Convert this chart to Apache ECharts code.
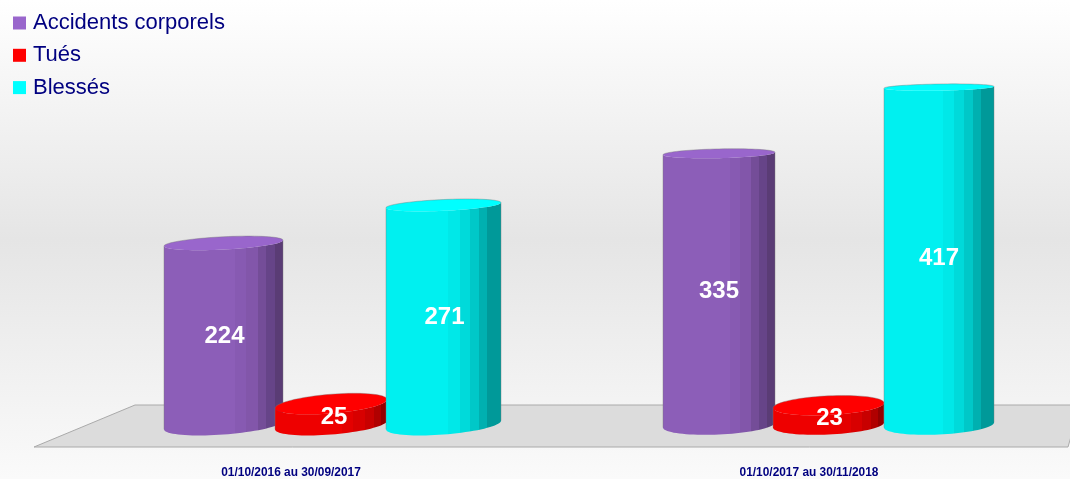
<!DOCTYPE html>
<html>
<head>
<meta charset="utf-8">
<style>html,body{margin:0;padding:0;background:#fff}#chart{width:1070px;height:479px}</style>
<script src="https://cdn.jsdelivr.net/npm/echarts@6/dist/echarts.min.js"></script>
</head>
<body>
<div id="chart"></div>
<script>
// values
var categories = ["01/10/2016 au 30/09/2017", "01/10/2017 au 30/11/2018"];
var seriesNames = ["Accidents corporels", "Tués", "Blessés"];
var accidents = [224, 335];
var tues = [25, 23];
var blesses = [271, 417];

// cylinder layout, per series then per category (the fake perspective shifts them)
var barOffset = [[-67.5, -90], [40, 19.5], [152.5, 130]];
var barWidth = [[119, 112], [112, 111], [115, 110]];
var labelShift = [[1, 0], [3, 1], [1, 0]];
var groupTilt = [5.5, 3.2];

var capColors = ["#9966cc", "#ff0000", "#00ffff"];
var bands = [
    [[0, "#8c5eb8"], [0.6, "#875ab2"], [0.69, "#8256aa"], [0.79, "#744d98"], [0.86, "#664488"], [0.93, "#5a3c75"]],
    [[0, "#ee0000"], [0.6, "#e40000"], [0.7, "#d80000"], [0.8, "#c80000"], [0.88, "#b00000"], [0.95, "#930000"]],
    [[0, "#00f0f0"], [0.54, "#00e8e8"], [0.64, "#00dada"], [0.73, "#00c8c8"], [0.81, "#00b0b0"], [0.88, "#009999"]]
];

function bandGradient(s, x0, x1) {
    var stops = [];
    bands[s].forEach(function (b, i) {
        if (i > 0) stops.push({ offset: b[0], color: bands[s][i - 1][1] });
        stops.push({ offset: b[0], color: b[1] });
    });
    stops.push({ offset: 1, color: bands[s][bands[s].length - 1][1] });
    return new echarts.graphic.LinearGradient(x0, 0, x1, 0, stops, true);
}

// point on a slanted ellipse
function ell(cx, cy, rx, ry, tilt, t) {
    return [cx + rx * Math.cos(t), cy + ry * Math.sin(t) - Math.cos(t) * tilt / 2];
}

function cylinder(s) {
    return function (params, api) {
        var g = api.value(0);
        var v = api.value(1);
        var center = api.coord([g, v]);
        var zero = api.coord([g, 0]);
        var cx = center[0] + barOffset[s][g];
        var rx = barWidth[s][g] / 2;
        var topY = center[1];
        var baseY = zero[1] + 1;
        var ry = 10 - v * 0.016;
        var topTilt = groupTilt[g] * ry / 6;
        var baseTilt = groupTilt[g] * 9.5 / 6;
        var body = [];
        var cap = [];
        var rim = [];
        var i;
        // base arc, left to right along the front
        for (i = 0; i <= 40; i++) {
            body.push(ell(cx, baseY, rx, 9.5, baseTilt, Math.PI - Math.PI * i / 40));
        }
        // top arc back, right to left along the front of the cap
        for (i = 0; i <= 40; i++) {
            body.push(ell(cx, topY, rx, ry, topTilt, Math.PI * i / 40));
        }
        for (i = 0; i < 80; i++) {
            cap.push(ell(cx, topY, rx, ry, topTilt, Math.PI * 2 * i / 80));
        }
        // grey line along the back of the cap, then the two sides
        for (i = 0; i <= 40; i++) {
            rim.push(ell(cx, topY, rx, ry, topTilt, -Math.PI * i / 40));
        }
        var lineStyle = { fill: null, stroke: "rgba(120,120,120,0.4)", lineWidth: 1 };
        return {
            type: "group",
            children: [
                {
                    type: "polygon",
                    shape: { points: body },
                    style: { fill: bandGradient(s, cx - rx, cx + rx) }
                },
                {
                    type: "polygon",
                    shape: { points: cap },
                    style: { fill: capColors[s] }
                },
                { type: "polyline", shape: { points: rim }, style: lineStyle },
                { type: "polyline", shape: { points: [body[0], body[81]] }, style: lineStyle },
                { type: "polyline", shape: { points: [body[40], body[41]] }, style: lineStyle },
                {
                    type: "text",
                    style: {
                        x: cx + labelShift[s][g],
                        y: (topY + baseY) / 2 + (v < 50 ? 3 : 2),
                        text: String(v),
                        fill: "#ffffff",
                        font: "bold 24px 'Liberation Sans'",
                        align: "center",
                        verticalAlign: "middle"
                    }
                }
            ]
        };
    };
}

var seriesData = [accidents, tues, blesses];

var myChart = echarts.init(document.getElementById("chart"), null, { width: 1070, height: 479 });

var option = {
    animation: false,
    backgroundColor: new echarts.graphic.LinearGradient(0, 0, 0, 1, [
        { offset: 0, color: "#ffffff" },
        { offset: 0.5, color: "#e5e5e5" },
        { offset: 1, color: "#fafafa" }
    ]),
    grid: { left: 32, right: 2, top: 20.3, bottom: 52.5 },
    legend: {
        orient: "vertical",
        left: 8,
        top: 7,
        itemWidth: 13,
        itemHeight: 13,
        itemGap: 10.3,
        icon: "rect",
        data: seriesNames,
        textStyle: { color: "#000080", fontSize: 22, fontFamily: "Liberation Sans", padding: [0, 0, 0, 2] }
    },
    xAxis: {
        type: "category",
        data: categories,
        axisLine: { show: false },
        axisTick: { show: false },
        axisLabel: { color: "#000080", fontSize: 11.9, fontWeight: "bold", fontFamily: "Liberation Sans", margin: 43 }
    },
    yAxis: { type: "value", min: 0, max: 500, show: false },
    graphic: [{
        type: "polygon",
        z: 0,
        shape: { points: [[34, 447], [135, 405], [1080, 405], [1068, 447]] },
        style: { fill: "#dcdcdc", stroke: "#aaaaaa", lineWidth: 1 }
    }],
    series: seriesNames.map(function (name, s) {
        return {
            name: name,
            type: "custom",
            renderItem: cylinder(s),
            itemStyle: { color: capColors[s] },
            encode: { x: 0, y: 1 },
            data: seriesData[s].map(function (v, g) { return [g, v]; })
        };
    })
};
myChart.setOption(option);
</script>
</body>
</html>
